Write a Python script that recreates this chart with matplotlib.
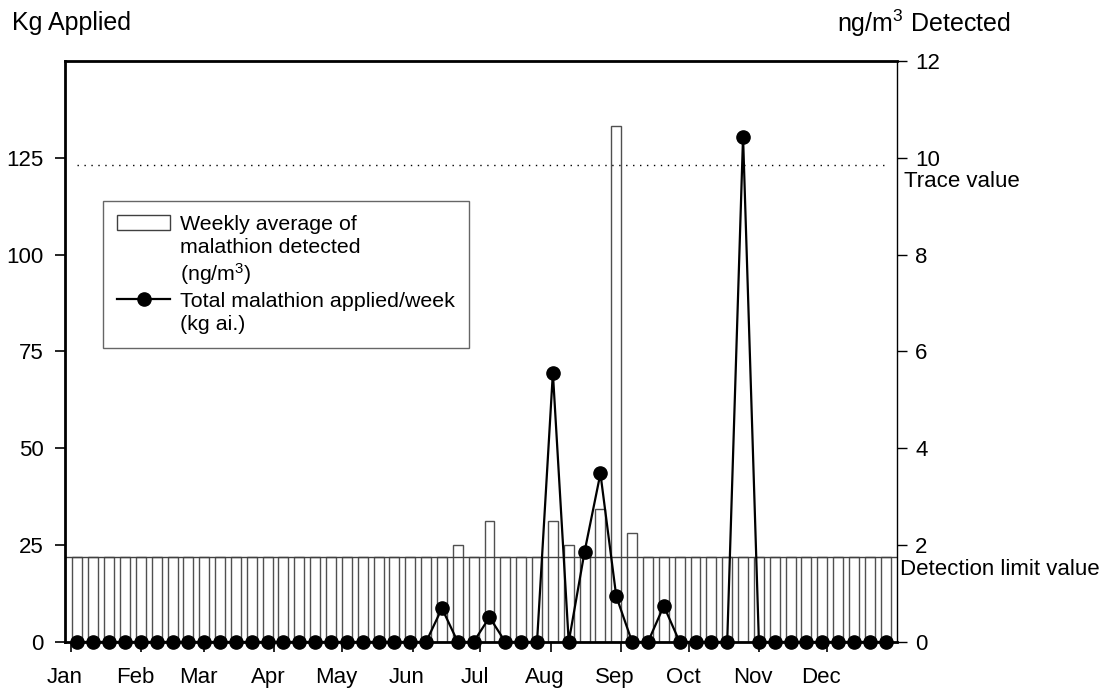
import matplotlib.pyplot as plt
from matplotlib.lines import Line2D
from matplotlib.patches import Patch
import numpy as np

plt.rcParams['font.family'] = ['Liberation Sans', 'DejaVu Sans']
plt.rcParams['mathtext.default'] = 'regular'

# week numbers (1..52) of the sampling year
weeks = np.arange(1, 53)

# total malathion applied per week (kg ai.)
kg_applied = [0, 0, 0, 0, 0, 0, 0, 0, 0, 0, 0, 0, 0, 0, 0, 0, 0, 0, 0, 0, 0, 0, 0,
              8.7, 0, 0, 6.4, 0, 0, 0, 69.5, 0, 23.3, 43.5, 11.8, 0, 0, 9.3,
              0, 0, 0, 0, 130.5, 0, 0, 0, 0, 0, 0, 0, 0, 0]

# weekly average of malathion detected (ng/m3); non-detects shown at detection limit
ng_detected = [1.75] * 24 + [2.0, 1.75, 2.5, 1.75, 1.75, 1.75, 2.5, 2.0, 1.75, 2.75,
                             10.65, 2.25] + [1.75] * 16

detection_limit = 1.75
trace_value = 9.85

months = ['Jan', 'Feb', 'Mar', 'Apr', 'May', 'Jun', 'Jul', 'Aug', 'Sep', 'Oct', 'Nov', 'Dec']
month_start = [0, 31, 59, 90, 120, 151, 181, 212, 243, 273, 304, 334]

day = (weeks - 1) * 7 + 3
fs = 16

fig = plt.figure(figsize=(11.07, 6.88), dpi=100)
ax = fig.add_axes([0.0587, 0.0669, 0.7516, 0.8444])
ax2 = ax.twinx()

# bars on the right (ng/m3) axis
ax2.bar(day, ng_detected, width=4.4, color='white', edgecolor='#505050', linewidth=1.0)
ax2.axhline(detection_limit, color='#404040', linewidth=1.0)
ax2.hlines(trace_value, day[0], day[-1], colors='black', linestyles=(0, (1, 4)), linewidth=1.0)
ax2.set_ylim(0, 12)
ax2.set_yticks(range(0, 13, 2))

# line on the left (kg) axis, drawn above the bars
ax.set_zorder(ax2.get_zorder() + 1)
ax.patch.set_visible(False)
ax.plot(day, kg_applied, color='black', linewidth=1.6, marker='o', markersize=9.5,
        clip_on=False, zorder=5)
ax.set_ylim(0, 150)
ax.set_yticks(range(0, 126, 25))
ax.set_xlim(0, 365)

ax.set_xticks(month_start, minor=True)
ax.set_xticks([m - 2.5 for m in month_start])
ax.set_xticklabels(months)
ax.tick_params(axis='x', which='major', length=0, pad=18, labelsize=fs)
ax.tick_params(axis='x', which='minor', length=7, width=1.2, direction='out')
ax.tick_params(axis='y', length=7, width=1.2, pad=8.5, labelsize=fs)
ax2.tick_params(axis='y', length=7, width=1.0, pad=6, labelsize=fs)

for s in ['left', 'top', 'bottom']:
    ax.spines[s].set_linewidth(2)
ax.spines['right'].set_visible(False)
ax2.spines['right'].set_linewidth(1.0)
for s in ['left', 'top', 'bottom']:
    ax2.spines[s].set_visible(False)

fig.text(12 / 1107, 1 - 23 / 688, 'Kg Applied', fontsize=18, va='center', ha='left')
fig.text(837 / 1107, 1 - 23 / 688, 'ng/m$^3$ Detected', fontsize=18, va='center', ha='left')
ax2.text(1.008, trace_value - 0.33, 'Trace value', transform=ax2.get_yaxis_transform(),
         fontsize=fs, va='center', ha='left', clip_on=False)
ax2.text(1.004, detection_limit - 0.25, 'Detection limit value', transform=ax2.get_yaxis_transform(),
         fontsize=fs, va='center', ha='left', clip_on=False)

blank = Line2D([], [], linestyle='none')
handles = [Patch(facecolor='white', edgecolor='#404040', linewidth=1.0), blank, blank,
           Line2D([], [], color='black', linewidth=1.6, marker='o', markersize=9.5), blank]
labels = ['Weekly average of', 'malathion detected', '(ng/m$^3$)',
          'Total malathion applied/week', '(kg ai.)']
leg = ax.legend(handles, labels, loc='upper left', bbox_to_anchor=(0.0457, 0.759),
                borderaxespad=0, fontsize=15.4, frameon=True, fancybox=False,
                handlelength=2.5, handletextpad=0.45, labelspacing=0.2, borderpad=0.65)
leg.get_frame().set_edgecolor('#404040')
leg.get_frame().set_linewidth(1.0)

fig.savefig('out.png', dpi=100)
